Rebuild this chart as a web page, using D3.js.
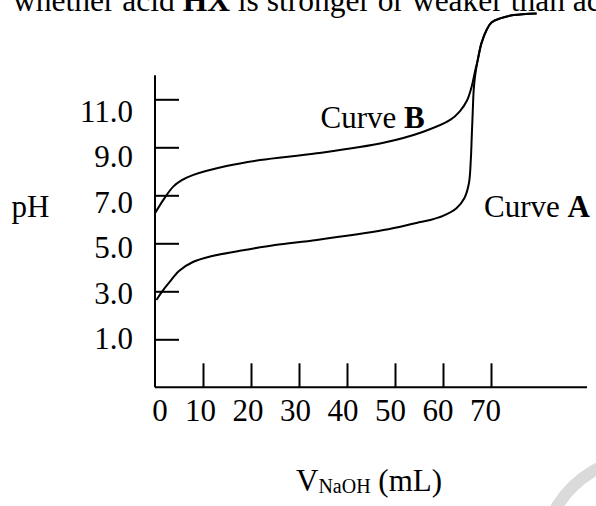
<!DOCTYPE html>
<html><head><meta charset="utf-8">
<script src="https://cdn.jsdelivr.net/npm/d3@7"></script>
<style>
html,body{margin:0;padding:0;background:#fff;}
svg{display:block;}
text{font-family:"Liberation Serif","Times New Roman",serif;fill:#000;}
</style></head>
<body>
<svg id="chart" width="596" height="506"></svg>
<script>
// ---- data ----
const xTicks = [10, 20, 30, 40, 50, 60, 70];
const xTickLabels = ["0", "10", "20", "30", "40", "50", "60", "70"];
const yTicks = [1, 3, 5, 7, 9, 11];
const yTickLabels = ["1.0", "3.0", "5.0", "7.0", "9.0", "11.0"];
// Curve A, [V NaOH mL, pH]
const curveAmL = [0.3, 1.5, 3.1, 5, 7.9, 11.5, 18.7, 25, 33.7, 47.6, 54.5, 57.3, 60, 62.8, 64.5, 65.4, 65.8, 66.0, 66.2, 66.4, 66.7, 67.2, 68, 69.1, 70.1, 71.9, 74.7, 79.5];
const curveApH = [2.64, 3.0, 3.4, 3.85, 4.22, 4.45, 4.72, 4.93, 5.14, 5.55, 5.85, 5.97, 6.14, 6.46, 6.9, 7.5, 8.5, 9.5, 10.5, 11.4, 12.0, 12.6, 13.33, 13.9, 14.2, 14.37, 14.51, 14.58];
// Curve B, [V NaOH mL, pH]
const curveBmL = [0, 1.7, 3.8, 5.5, 8, 14.9, 21.9, 33.7, 47.6, 55.9, 61.5, 63.5, 65, 66, 66.6, 67.2, 68, 69.1, 70.1, 71.9, 74.7, 79.5];
const curveBpH = [6.25, 6.8, 7.36, 7.62, 7.85, 8.22, 8.47, 8.75, 9.19, 9.65, 10.14, 10.5, 10.95, 11.55, 12.1, 12.6, 13.33, 13.9, 14.2, 14.37, 14.51, 14.58];

// ---- drawing ----
const svg = d3.select("#chart");
const x = d3.scaleLinear().domain([0, 90]).range([155, 587]);
const y = d3.scaleLinear().domain([-1, 12]).range([387.3, 75.3]);
// label placement scales (labels are not exactly aligned with ticks in the original)
const xLab = d3.scaleLinear().domain([0, 10, 70]).range([160, 200.5, 485.5]);
const yLab = d3.scaleLinear().domain([11, 1]).range([121.7, 349.3]);
const FS = "31px";

// watermark arc
svg.append("path")
  .attr("d", d3.arc().innerRadius(97).outerRadius(109).startAngle(-Math.PI * 0.62).endAngle(-Math.PI * 0.02)())
  .attr("transform", "translate(645,560)")
  .attr("fill", "#dadada");

// top cut-off sentence
const topText = svg.append("text").attr("x", 13).attr("y", 11).style("font-size", "31.5px");
topText.append("tspan").text("whether acid ");
topText.append("tspan").style("font-weight", "bold").text("HX");
topText.append("tspan").text(" is stronger or weaker than acid");

// x axis
const gx = svg.append("g").attr("transform", `translate(0,${y(-1)})`)
  .call(d3.axisTop(x).tickValues(xTicks).tickSize(24).tickSizeOuter(0).tickFormat(""));
gx.select(".domain").attr("d", `M${x(0)},0H${x(90)}`).attr("stroke-width", 2);
gx.selectAll(".tick line").attr("stroke-width", 2);

// y axis
const gy = svg.append("g").attr("transform", `translate(${x(0)},0)`)
  .call(d3.axisRight(y).tickValues(yTicks).tickSize(24).tickSizeOuter(0).tickFormat(""));
gy.select(".domain").attr("d", `M0,${y(12)}V${y(-1)}`).attr("stroke-width", 2);
gy.selectAll(".tick line").attr("stroke-width", 2);

// tick labels
svg.append("g").selectAll("text").data(xTickLabels).join("text")
  .attr("x", d => xLab(+d)).attr("y", 420.5)
  .attr("text-anchor", "middle").style("font-size", FS).text(d => d);
svg.append("g").selectAll("text").data(yTickLabels).join("text")
  .attr("x", 133).attr("y", d => yLab(+d))
  .attr("text-anchor", "end").style("font-size", FS).text(d => d);

// axis titles
svg.append("text").attr("x", 11.5).attr("y", 217.3).style("font-size", FS).text("pH");
const xt = svg.append("text").attr("x", 296).attr("y", 491).style("font-size", FS);
xt.append("tspan").text("V");
xt.append("tspan").attr("dy", 2).style("font-size", "20px").text("NaOH");
xt.append("tspan").attr("dy", -2).text(" (mL)");

// curves
const line = d3.line().x(d => x(d[0])).y(d => y(d[1])).curve(d3.curveCatmullRom.alpha(0.5));
const dataA = curveAmL.map((v, i) => [v, curveApH[i]]);
const dataB = curveBmL.map((v, i) => [v, curveBpH[i]]);
[dataA, dataB].forEach(d => {
  svg.append("path").datum(d).attr("d", line)
    .attr("fill", "none").attr("stroke", "#000").attr("stroke-width", 2);
});

// curve labels
const lb = svg.append("text").attr("x", 320.5).attr("y", 128.3).style("font-size", FS);
lb.append("tspan").text("Curve ");
lb.append("tspan").style("font-weight", "bold").text("B");
const la = svg.append("text").attr("x", 484).attr("y", 217.3).style("font-size", FS);
la.append("tspan").text("Curve ");
la.append("tspan").style("font-weight", "bold").text("A");
</script>
</body></html>
